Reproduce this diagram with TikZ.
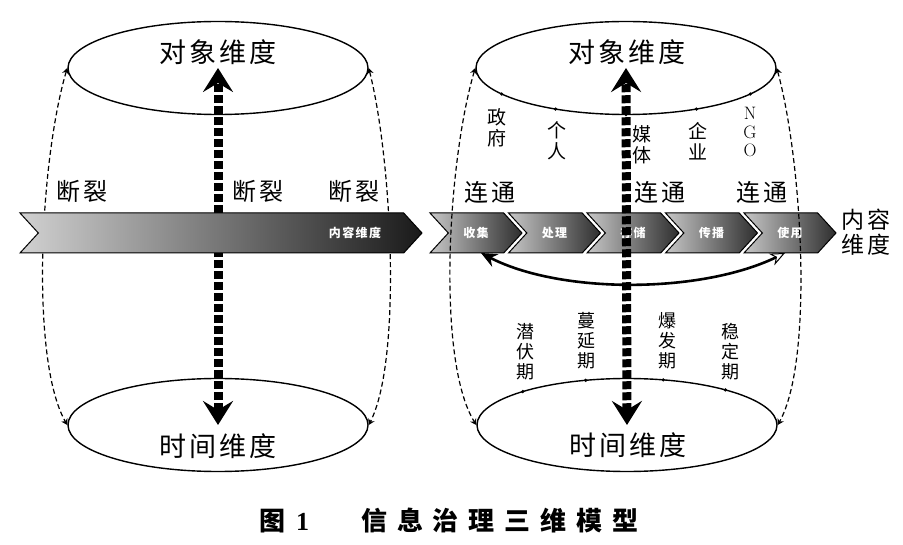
\documentclass[tikz,border=0pt]{standalone}
\usepackage{fontspec}
\usetikzlibrary{arrows.meta,shapes.geometric,shapes.symbols}
\newfontfamily\cjk{Noto Sans CJK SC}
\newfontfamily\cjkw[LetterSpace=12]{Noto Sans CJK SC}
\newfontfamily\cjkcap[LetterSpace=38]{Noto Sans CJK SC}
\newfontfamily\capnum{Liberation Serif}
\tikzset{
  disc/.style={draw, ellipse, line width=1.4pt, minimum width=300pt, minimum height=93pt, inner sep=0pt},
  rim/.style={line width=1.2pt, dash pattern=on 5pt off 3pt, {Stealth[length=6pt,width=7pt]}-{Stealth[length=6pt,width=7pt]}},
  axis/.style={line width=9pt, dash pattern=on 8pt off 3pt, {Stealth[length=24pt,width=30pt,inset=9pt]}-{Stealth[length=24pt,width=30pt,inset=9pt]}},
  backflow/.style={line width=2.6pt, {Stealth[fill=white,line width=1pt,length=15pt,width=13pt]}-{Stealth[length=16pt,width=14pt]}},
  title/.style={font=\cjkw\fontsize{27}{27}\selectfont, inner sep=0pt},
  tag/.style={font=\cjkw\fontsize{24}{24}\selectfont, inner sep=0pt},
  vtag/.style={font=\cjk\fontsize{19}{21}\selectfont, align=center, inner sep=0pt},
  ptag/.style={font=\cjk\fontsize{18}{20}\selectfont, align=center, inner sep=0pt},
  stage/.style={signal, signal from=west, signal to=east, signal pointer angle=95, draw=black, line width=1pt,
    left color=black!22, right color=black!82, minimum height=40pt, minimum width=92pt, inner sep=0pt,
    text=white, font=\cjkw\bfseries\fontsize{12}{12}\selectfont}
}
\begin{document}
\begin{tikzpicture}[x=1pt,y=-1pt]
  \useasboundingbox (0,0) rectangle (903,545);
  % left model
  \node[disc] (objL) at (218,68) {};
  \node[disc] (timeL) at (218,425) {};
  \node[title] (objLtxt) at (218,52) {对象维度};
  \node[title] (timeLtxt) at (218,446) {时间维度};
  \draw[rim] (objL.west) .. controls (40,160) and (30,360) .. (timeL.west);
  \draw[rim] (objL.east) .. controls (392,160) and (402,360) .. (timeL.east);
  \draw[axis] (timeL.center) -- (objL.center);
  \node[stage, minimum width=402pt, left color=black!18, right color=black!90] (flowL) at (221,233) {};
  \node[anchor=east, text=white, font=\cjkw\bfseries\fontsize{12}{12}\selectfont] (flowLtxt) at ([xshift=-38pt]flowL.east) {内容维度};
  \node[tag] (breakA) at (82,191) {断裂};
  \node[tag] (breakB) at (258,191) {断裂};
  \node[tag] (breakC) at (354,191) {断裂};
  % right model
  \node[disc] (objR) at (626,68) {};
  \node[disc] (timeR) at (627,425) {};
  \node[title] (objRtxt) at (627,52) {对象维度};
  \node[title] (timeRtxt) at (628,445) {时间维度};
  \foreach \t in {146,118,90,62,34}
    \fill ({626+150*cos(\t)},{68+46.5*sin(\t)}) circle (1.8pt);
  \foreach \t in {134,106,76,49}
    \fill ({627+150*cos(\t)},{425-46.5*sin(\t)}) circle (1.8pt);
  \node[vtag] (gov) at (497,128) {政\\府};
  \node[vtag] (person) at (557,141) {个\\人};
  \node[vtag] (media) at (642,145) {媒\\体};
  \node[vtag] (firm) at (698,141) {企\\业};
  \node[vtag, font=\fontsize{18}{19}\selectfont] (ngo) at (750,132) {N\\G\\O};
  \foreach \x/\txt [count=\i] in {476/收集,554.5/处理,633/存储,711.5/传播,790/使用}
    \node[stage] (s\i) at (\x,233) {\txt};
  \coordinate (useEnd) at (785,253);
  \coordinate (collectEnd) at (481,253);
  \draw[backflow] (useEnd) .. controls (700,294) and (560,294) .. (collectEnd);
  \draw[rim] (objR.west) .. controls (448,160) and (436,360) .. (timeR.west);
  \draw[rim] (objR.east) .. controls (802,160) and (814,360) .. (timeR.east);
  \draw[axis] (timeR.center) -- (objR.center);
  \node[tag] (linkA) at (490,192) {连通};
  \node[tag] (linkB) at (660,192) {连通};
  \node[tag] (linkC) at (762,192) {连通};
  \node[tag, align=center, font=\cjkw\fontsize{23}{25}\selectfont] (content) at (866,232) {内容\\维度};
  \node[ptag] (latent) at (525,352) {潜\\伏\\期};
  \node[ptag] (spread) at (586,341) {蔓\\延\\期};
  \node[ptag] (burst) at (667,341) {爆\\发\\期};
  \node[ptag] (stable) at (730,352) {稳\\定\\期};
  % caption
  \node[anchor=west, inner sep=0pt, font=\fontsize{26}{26}\selectfont\bfseries] (caption) at (259,521)
    {{\cjkcap 图}\hspace{11pt}{\capnum 1}\hspace{52pt}{\cjkcap 信息治理三维模型}};
\end{tikzpicture}
\end{document}
